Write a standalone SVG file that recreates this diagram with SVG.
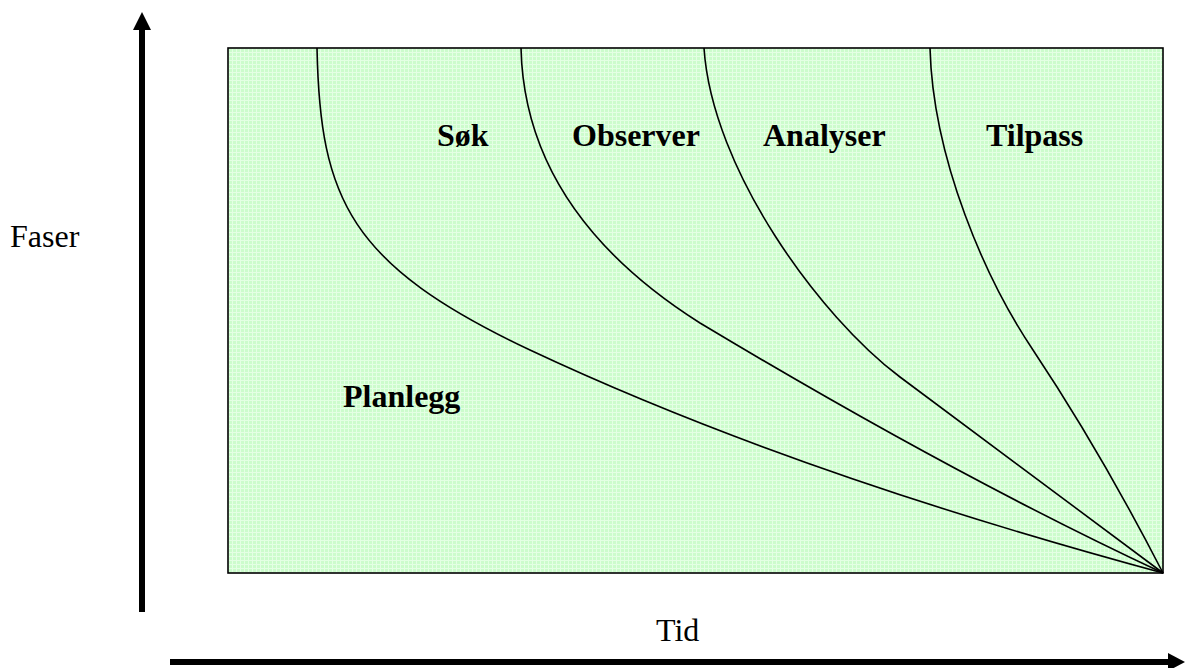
<svg xmlns="http://www.w3.org/2000/svg" width="1185" height="668" viewBox="0 0 1185 668">
<style>
.lbl{font-family:"Liberation Serif","Times New Roman",serif;font-size:32px;font-weight:bold;fill:#000}
.ax{font-family:"Liberation Serif","Times New Roman",serif;font-size:32px;fill:#000}
.curve{fill:none;stroke:#000;stroke-width:1.6}
.axis{fill:none;stroke:#000;stroke-width:6}
</style>
<defs>
<pattern id="grid" width="4" height="4" patternUnits="userSpaceOnUse">
<rect width="4" height="4" fill="#ccfccc"/>
<rect x="0" y="0" width="4" height="1" fill="#e4ffe4"/>
<rect x="0" y="0" width="1" height="4" fill="#e4ffe4"/>
</pattern>
</defs>
<rect width="1185" height="668" fill="#fff"/>
<g id="phase-area">
<rect x="228" y="48" width="935" height="525" fill="url(#grid)" stroke="#000" stroke-width="1.6"/>
</g>
<g id="connectors">
<path class="curve" d="M317,48 C320,200 350,265 530,350 C730,444 963,519 1163,573"/>
<path class="curve" d="M521,48 C524,180 610,266 700,323 C850,413 1013,503 1163,573"/>
<path class="curve" d="M704,48 C712,170 820,317 900,377 L1163,573"/>
<path class="curve" d="M930,48 C933,160 986,280 1033,350 C1063,395 1110,470 1163,573"/>
</g>
<g id="labels">
<text class="lbl" x="437" y="146">Søk</text>
<text class="lbl" x="572" y="146">Observer</text>
<text class="lbl" x="763" y="146">Analyser</text>
<text class="lbl" x="986" y="146">Tilpass</text>
<text class="lbl" x="343" y="407">Planlegg</text>
</g>
<g id="y-axis">
<line class="axis" x1="142" y1="612" x2="142" y2="27"/>
<polygon points="142,12 133,30 151,30" fill="#000"/>
<text class="ax" x="10" y="247">Faser</text>
</g>
<g id="x-axis">
<line class="axis" x1="170" y1="662" x2="1170" y2="662"/>
<polygon points="1185,662 1168,653 1168,671" fill="#000"/>
<text class="ax" x="656" y="641">Tid</text>
</g>
</svg>
